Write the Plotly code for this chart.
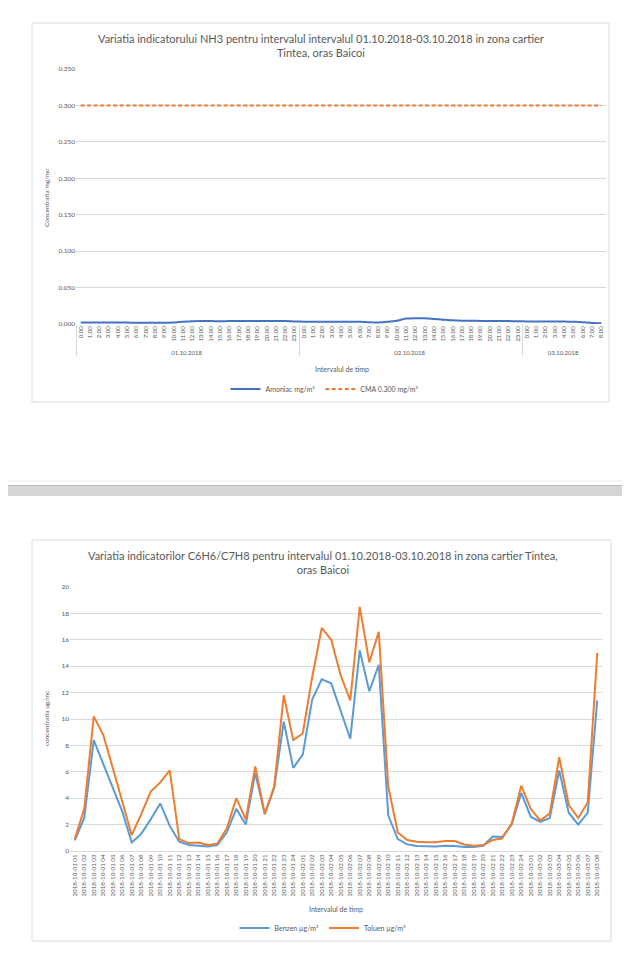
import plotly.graph_objects as go

# ---------------- data: chart 1 (NH3) ----------------
nh3_dates = ["01.10.2018"] * 24 + ["02.10.2018"] * 24 + ["03.10.2018"] * 9
nh3_hours = (["%d:00" % h for h in range(24)] +
             ["%d:00" % h for h in range(24)] +
             ["%d:00" % h for h in range(9)])
amoniac = [0.0020, 0.0020, 0.0020, 0.0020, 0.0020, 0.0019, 0.0018, 0.0018, 0.0018, 0.0018,
           0.0020, 0.0030, 0.0038, 0.0040, 0.0040, 0.0038, 0.0040, 0.0040, 0.0040, 0.0040,
           0.0040, 0.0040, 0.0040, 0.0035,
           0.0032, 0.0032, 0.0030, 0.0030, 0.0030, 0.0030, 0.0030, 0.0025, 0.0022, 0.0030,
           0.0045, 0.0075, 0.0080, 0.0078, 0.0070, 0.0060, 0.0050, 0.0045, 0.0045, 0.0042,
           0.0040, 0.0040, 0.0040, 0.0038,
           0.0035, 0.0035, 0.0035, 0.0035, 0.0035, 0.0030, 0.0025, 0.0015, 0.0012]
cma_value = 0.300
cma = [cma_value] * len(amoniac)
nh3_yticks = [0.0, 0.05, 0.10, 0.15, 0.20, 0.25, 0.30, 0.35]

# ---------------- data: chart 2 (C6H6 / C7H8) ----------------
voc_labels = (["2018-10-01 %02d" % h for h in range(1, 25)] +
              ["2018-10-02 %02d" % h for h in range(1, 25)] +
              ["2018-10-03 %02d" % h for h in range(1, 9)])
benzen = [0.8, 2.5, 8.4, 6.6, 4.8, 3.0, 0.65, 1.3, 2.4, 3.6, 1.9, 0.7, 0.45, 0.4, 0.35, 0.45,
          1.4, 3.2, 2.0, 5.9, 2.8, 4.8, 9.8, 6.3, 7.3, 11.5, 13.0, 12.7, 10.6, 8.5, 15.2, 12.1,
          14.1, 2.7, 0.9, 0.5, 0.38, 0.35, 0.35, 0.4, 0.38, 0.3, 0.3, 0.4, 1.1, 1.06, 2.0, 4.4,
          2.6, 2.2, 2.5, 6.1, 2.9, 2.0, 2.9, 11.4]
toluen = [0.9, 3.2, 10.2, 8.8, 6.3, 3.7, 1.2, 2.8, 4.5, 5.2, 6.1, 0.9, 0.6, 0.65, 0.45, 0.55,
          1.7, 4.0, 2.4, 6.4, 2.8, 4.9, 11.8, 8.4, 8.9, 13.2, 16.9, 16.0, 13.3, 11.4, 18.5, 14.3,
          16.6, 4.9, 1.4, 0.83, 0.7, 0.66, 0.66, 0.75, 0.75, 0.5, 0.4, 0.45, 0.83, 0.96, 2.1, 4.95,
          3.2, 2.3, 2.85, 7.1, 3.5, 2.5, 3.7, 15.0]

# ---------------- layout helpers ----------------
W, H = 630, 960
FONT = "Lato, 'Open Sans', sans-serif"
TXT = "#595959"
GRID = "#d9d9d9"


def px_x(p):
    return p / W


def px_y(p):
    return 1 - p / H


fig = go.Figure()

fig.add_trace(go.Scatter(
    x=[nh3_dates, nh3_hours], y=amoniac, mode="lines", name="Amoniac mg/m³",
    line=dict(color="#4472C4", width=2, shape="spline", smoothing=0.6),
    xaxis="x", yaxis="y", legend="legend"))
fig.add_trace(go.Scatter(
    x=[nh3_dates, nh3_hours], y=cma, mode="lines", name="CMA 0.300 mg/m³",
    line=dict(color="#ED7D31", width=2, dash="4px,2.5px"),
    xaxis="x", yaxis="y", legend="legend"))

fig.add_trace(go.Scatter(
    x=voc_labels, y=benzen, mode="lines", name="Benzen µg/m³",
    line=dict(color="#5B9BD5", width=2),
    xaxis="x2", yaxis="y2", legend="legend2"))
fig.add_trace(go.Scatter(
    x=voc_labels, y=toluen, mode="lines", name="Toluen µg/m³",
    line=dict(color="#ED7D31", width=2),
    xaxis="x2", yaxis="y2", legend="legend2"))

shapes = [
    # chart frames
    dict(type="rect", xref="paper", yref="paper", x0=px_x(24), x1=px_x(601),
         y0=px_y(394), y1=px_y(15), line=dict(color="#dcdcdc", width=1), layer="below"),
    dict(type="rect", xref="paper", yref="paper", x0=px_x(24), x1=px_x(603),
         y0=px_y(933), y1=px_y(532), line=dict(color="#dcdcdc", width=1), layer="below"),
    # page separator
    dict(type="rect", xref="paper", yref="paper", x0=0, x1=1,
         y0=px_y(488), y1=px_y(477), fillcolor="#d6d6d6", line=dict(width=0), layer="below"),
    dict(type="line", xref="paper", yref="paper", x0=0, x1=1,
         y0=px_y(477.5), y1=px_y(477.5), line=dict(color="#bdbdbd", width=1), layer="below"),
    dict(type="line", xref="paper", yref="paper", x0=0, x1=1,
         y0=px_y(473), y1=px_y(473), line=dict(color="#ececec", width=1), layer="below"),
]

annotations = [
    dict(text="Variatia indicatorului NH3 pentru intervalul intervalul 01.10.2018-03.10.2018 in zona cartier<br>Tintea, oras Baicoi",
         xref="paper", yref="paper", x=px_x(313), y=px_y(37), showarrow=False,
         xanchor="center", yanchor="middle", font=dict(size=11, color=TXT, family=FONT)),
    dict(text="Concentratia mg/mc", xref="paper", yref="paper", x=px_x(39), y=px_y(190),
         textangle=-90, showarrow=False, xanchor="center", yanchor="middle",
         font=dict(size=6.5, color=TXT, family=FONT)),
    dict(text="Intervalul de timp", xref="paper", yref="paper", x=px_x(334), y=px_y(361),
         showarrow=False, xanchor="center", yanchor="middle",
         font=dict(size=7, color=TXT, family=FONT)),
    dict(text="Variatia indicatorilor C6H6/C7H8 pentru intervalul 01.10.2018-03.10.2018 in zona cartier Tintea,<br>oras Baicoi",
         xref="paper", yref="paper", x=px_x(315), y=px_y(554), showarrow=False,
         xanchor="center", yanchor="middle", font=dict(size=11, color=TXT, family=FONT)),
    dict(text="concentratia ug/mc", xref="paper", yref="paper", x=px_x(38), y=px_y(711),
         textangle=-90, showarrow=False, xanchor="center", yanchor="middle",
         font=dict(size=6.5, color=TXT, family=FONT)),
    dict(text="Intervalul de timp", xref="paper", yref="paper", x=px_x(328), y=px_y(901),
         showarrow=False, xanchor="center", yanchor="middle",
         font=dict(size=7, color=TXT, family=FONT)),
]

fig.update_layout(
    width=W, height=H, margin=dict(l=0, r=0, t=0, b=0, autoexpand=False),
    paper_bgcolor="white", plot_bgcolor="white",
    font=dict(family=FONT, color=TXT, size=7),
    showlegend=True,
    xaxis=dict(domain=[px_x(68), px_x(598)], anchor="y", type="multicategory",
               range=[-0.5, len(amoniac) - 0.5],
               tickangle=-90, tickfont=dict(size=6, color=TXT, family=FONT),
               showgrid=False, showline=False, ticks="", showdividers=True,
               dividercolor=GRID, dividerwidth=1, automargin=False),
    yaxis=dict(domain=[px_y(316), px_y(61)], anchor="x", range=[0, 0.35],
               tickvals=nh3_yticks, tickformat=".3f", showgrid=True, gridcolor=GRID,
               gridwidth=1, zeroline=False, showline=False, ticks="",
               tickfont=dict(size=6.5, color=TXT, family=FONT), automargin=False),
    xaxis2=dict(domain=[px_x(62), px_x(594)], anchor="y2", type="category",
                range=[-0.5, len(voc_labels) - 0.5],
                tickangle=-90, dtick=1, tickfont=dict(size=6.2, color=TXT, family=FONT),
                showgrid=False, showline=True, linecolor=GRID, linewidth=1, ticks="",
                automargin=False),
    yaxis2=dict(domain=[px_y(843), px_y(579)], anchor="x2", range=[0, 20], dtick=2,
                showgrid=True, gridcolor=GRID, gridwidth=1, zeroline=False,
                showline=False, ticks="", tickfont=dict(size=6.5, color=TXT, family=FONT),
                automargin=False),
    legend=dict(orientation="h", x=px_x(317), y=px_y(381), xanchor="center",
                yanchor="middle", font=dict(size=7, color=TXT, family=FONT),
                bgcolor="rgba(0,0,0,0)"),
    legend2=dict(orientation="h", x=px_x(315), y=px_y(920), xanchor="center",
                 yanchor="middle", font=dict(size=7, color=TXT, family=FONT),
                 bgcolor="rgba(0,0,0,0)"),
    shapes=shapes,
    annotations=annotations,
)

fig.write_html("out.html")
